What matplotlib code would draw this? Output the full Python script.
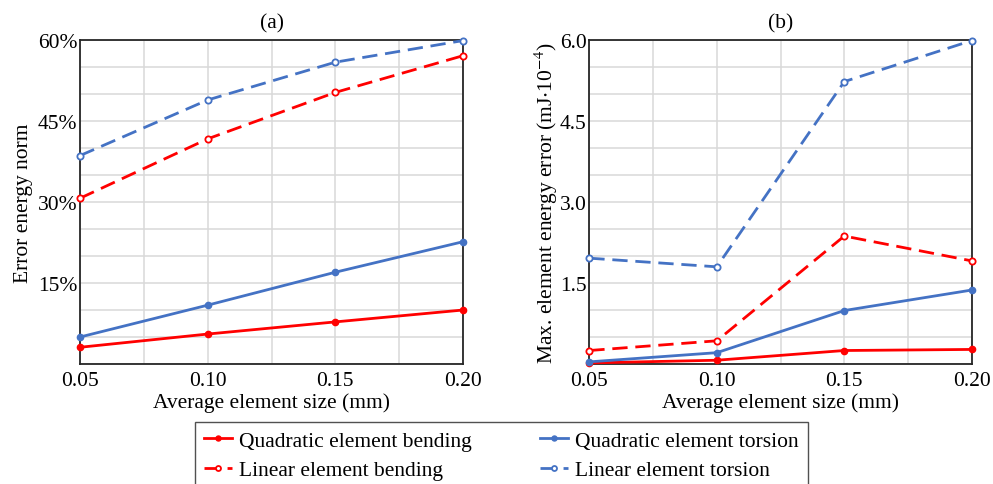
import matplotlib
matplotlib.use("Agg")
import matplotlib.pyplot as plt
from matplotlib.ticker import FuncFormatter, MultipleLocator

plt.rcParams['font.family'] = ['Liberation Serif', 'DejaVu Serif']
plt.rcParams['mathtext.fontset'] = 'stix'

element_size = [0.05, 0.10, 0.15, 0.20]

# (a) error energy norm, percent
norm_quad_bending = [3.1, 5.55, 7.8, 10.0]
norm_quad_torsion = [5.0, 10.9, 17.0, 22.65]
norm_lin_bending = [30.7, 41.7, 50.3, 57.1]
norm_lin_torsion = [38.6, 48.9, 55.9, 59.9]

# (b) max element energy error, mJ*1e-4
max_quad_bending = [0.02, 0.07, 0.25, 0.27]
max_quad_torsion = [0.04, 0.21, 0.99, 1.37]
max_lin_bending = [0.25, 0.43, 2.37, 1.91]
max_lin_torsion = [1.96, 1.80, 5.23, 5.99]

labels = ['Quadratic element bending', 'Linear element bending',
          'Quadratic element torsion', 'Linear element torsion']

RED = '#ff0000'
BLUE = '#4472c4'
FS = 15.5

fig = plt.figure(figsize=(9.93, 4.85), dpi=100)
ax_a = fig.add_axes([0.0806, 0.2474, 0.3857, 0.668])
ax_b = fig.add_axes([0.5935, 0.2474, 0.3851, 0.668])


def draw(ax, qb, lb, qt, lt):
    dash = (0, (5.5, 2.8))
    h1, = ax.plot(element_size, qb, color=RED, lw=2, marker='o', ms=4.5,
                  clip_on=False, zorder=5)
    h2, = ax.plot(element_size, lb, color=RED, lw=2, ls=dash, marker='o',
                  ms=4.5, mfc='white', mew=1.3, clip_on=False, zorder=5)
    h3, = ax.plot(element_size, qt, color=BLUE, lw=2, marker='o', ms=4.5,
                  clip_on=False, zorder=5)
    h4, = ax.plot(element_size, lt, color=BLUE, lw=2, ls=dash, marker='o',
                  ms=4.5, mfc='white', mew=1.3, clip_on=False, zorder=5)
    ax.set_xlim(0.05, 0.20)
    ax.set_xticks(element_size)
    ax.xaxis.set_major_formatter(FuncFormatter(lambda v, p: '%.2f' % v))
    ax.xaxis.set_minor_locator(MultipleLocator(0.025))
    ax.grid(which='both', color='#d9d9d9', lw=1.1)
    ax.set_axisbelow(True)
    ax.tick_params(axis='x', which='both', length=0, labelsize=FS, pad=5)
    ax.tick_params(axis='y', which='both', length=0, labelsize=FS, pad=2)
    for s in ax.spines.values():
        s.set_color('#262626')
        s.set_linewidth(1.3)
    ax.set_xlabel('Average element size (mm)', fontsize=FS, labelpad=2)
    return [h1, h2, h3, h4]


handles = draw(ax_a, norm_quad_bending, norm_lin_bending,
               norm_quad_torsion, norm_lin_torsion)
ax_a.set_ylim(0, 60)
ax_a.set_yticks([15, 30, 45, 60])
ax_a.yaxis.set_major_formatter(FuncFormatter(lambda v, p: '%d%%' % v))
ax_a.yaxis.set_minor_locator(MultipleLocator(5))
ax_a.set_ylabel('Error energy norm', fontsize=FS, labelpad=3)
ax_a.set_title('(a)', fontsize=FS, pad=9)

draw(ax_b, max_quad_bending, max_lin_bending, max_quad_torsion, max_lin_torsion)
ax_b.set_ylim(0, 6)
ax_b.set_yticks([1.5, 3.0, 4.5, 6.0])
ax_b.yaxis.set_major_formatter(FuncFormatter(lambda v, p: '%.1f' % v))
ax_b.yaxis.set_minor_locator(MultipleLocator(0.5))
ax_b.set_ylabel(r'Max. element energy error (mJ$\cdot$10$^{-4}$)', fontsize=FS,
                labelpad=0)
ax_b.set_title('(b)', fontsize=FS, pad=9)

leg = fig.legend(handles, labels, loc='upper center', bbox_to_anchor=(0.505, 0.128),
                 ncol=2, fontsize=FS, frameon=True, fancybox=False,
                 handlelength=1.3, handletextpad=0.3, columnspacing=3.2,
                 borderpad=0.42, labelspacing=0.42, borderaxespad=0,
                 markerscale=0.8)
leg.get_frame().set_edgecolor('#262626')
leg.get_frame().set_linewidth(1.0)

fig.savefig('out.png', dpi=100)
